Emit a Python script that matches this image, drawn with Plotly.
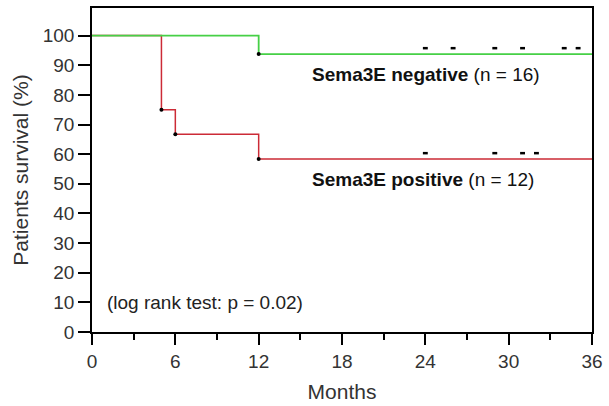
import plotly.graph_objects as go

# Data
neg_months = [0, 12, 36]
neg_surv = [100, 93.75, 93.75]
neg_event_months = [12]
neg_event_surv = [93.75]
neg_censor_months = [24, 26, 29, 31, 34, 35]

pos_months = [0, 5, 6, 12, 36]
pos_surv = [100, 75, 66.67, 58.33, 58.33]
pos_event_months = [5, 6, 12]
pos_event_surv = [75, 66.67, 58.33]
pos_censor_months = [24, 29, 31, 32]

y_ticks = list(range(0, 101, 10))
x_ticks = [0, 6, 12, 18, 24, 30, 36]

GREEN = "#46d046"
RED = "#cc2b36"
FONT = "Liberation Sans, Arial, sans-serif"
censor_offset = 2.0

fig = go.Figure()

# red first (green on top)
fig.add_trace(go.Scatter(x=pos_months, y=pos_surv, mode="lines", line_shape="hv",
                         line=dict(color=RED, width=1.5), hoverinfo="skip"))
fig.add_trace(go.Scatter(x=neg_months, y=neg_surv, mode="lines", line_shape="hv",
                         line=dict(color=GREEN, width=1.8), hoverinfo="skip"))

# event dots
fig.add_trace(go.Scatter(x=pos_event_months, y=pos_event_surv, mode="markers",
                         marker=dict(color="black", size=4), hoverinfo="skip"))
fig.add_trace(go.Scatter(x=neg_event_months, y=neg_event_surv, mode="markers",
                         marker=dict(color="black", size=4), hoverinfo="skip"))

# censor marks
fig.add_trace(go.Scatter(x=neg_censor_months,
                         y=[neg_surv[-1] + censor_offset] * len(neg_censor_months),
                         mode="markers",
                         marker=dict(symbol="line-ew", size=3.5, line=dict(color="black", width=2.5)),
                         hoverinfo="skip"))
fig.add_trace(go.Scatter(x=pos_censor_months,
                         y=[pos_surv[-1] + censor_offset] * len(pos_censor_months),
                         mode="markers",
                         marker=dict(symbol="line-ew", size=3.5, line=dict(color="black", width=2.5)),
                         hoverinfo="skip"))

fig.add_annotation(x=15.7, y=87, xref="x", yref="y", showarrow=False, xanchor="left",
                   text="<b>Sema3E negative</b> (n = 16)",
                   font=dict(family=FONT, size=19, color="#111"))
fig.add_annotation(x=15.7, y=51.3, xref="x", yref="y", showarrow=False, xanchor="left",
                   text="<b>Sema3E positive</b> (n = 12)",
                   font=dict(family=FONT, size=19, color="#111"))
fig.add_annotation(x=0.95, y=10, xref="x", yref="y", showarrow=False, xanchor="left",
                   text="(log rank test: p = 0.02)",
                   font=dict(family=FONT, size=19, color="#222"))

fig.update_layout(
    width=609, height=406,
    margin=dict(l=92, r=16, t=6, b=72),
    paper_bgcolor="white", plot_bgcolor="white",
    showlegend=False,
    font=dict(family=FONT, color="#333"),
)
fig.update_xaxes(
    range=[0, 36], tickvals=x_ticks, ticktext=[str(v) for v in x_ticks],
    ticks="outside", ticklen=11, tickwidth=1.5, tickcolor="black",
    minor=dict(dtick=3, tick0=0, ticks="outside", ticklen=6, tickwidth=1.5, tickcolor="black"),
    showline=True, linecolor="black", linewidth=1.5, mirror=True,
    showgrid=False, zeroline=False,
    tickfont=dict(family=FONT, size=19, color="#333"),
    title=dict(text="Months", font=dict(family=FONT, size=21, color="#333"), standoff=14),
)
fig.update_yaxes(
    range=[0, 109.3], tickvals=y_ticks,
    ticks="outside", ticklen=12, tickwidth=1.5, tickcolor="black",
    showline=True, linecolor="black", linewidth=1.5, mirror=True,
    showgrid=False, zeroline=False,
    tickfont=dict(family=FONT, size=19, color="#333"),
    title=dict(text="Patients survival (%)", font=dict(family=FONT, size=21, color="#333"), standoff=8),
)

fig.write_html("out.html")
